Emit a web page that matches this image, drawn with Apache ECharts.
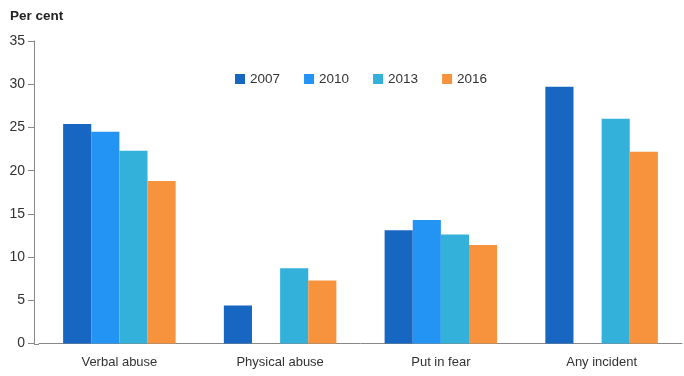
<!DOCTYPE html>
<html>
<head>
<meta charset="utf-8">
<script src="https://cdn.jsdelivr.net/npm/echarts@6/dist/echarts.min.js"></script>
<style>
  html, body { margin: 0; padding: 0; background: #fff; }
  #chart { width: 684px; height: 376px; }
</style>
</head>
<body>
<div id="chart"></div>
<script>
// Incident categories and the share (per cent) reported in each survey year
const categories = ['Verbal abuse', 'Physical abuse', 'Put in fear', 'Any incident'];
const years = ['2007', '2010', '2013', '2016'];
const values2007 = [25.4, 4.4, 13.1, 29.7];
const values2010 = [24.5, null, 14.3, null];
const values2013 = [22.3, 8.7, 12.6, 26.0];
const values2016 = [18.8, 7.3, 11.4, 22.2];
const yTicks = [0, 5, 10, 15, 20, 25, 30, 35];

const seriesValues = [values2007, values2010, values2013, values2016];
const colors = ['#1767c2', '#2494f4', '#33b1da', '#f7933c'];
const font = 'Liberation Sans, Arial, sans-serif';
const axisColor = '#888';
const gridLeft = 39;
const yAxisOffset = 5;

const chart = echarts.init(document.getElementById('chart'), null, { renderer: 'canvas' });

chart.setOption({
  animation: false,
  backgroundColor: '#fff',
  title: {
    text: 'Per cent',
    left: 5,
    top: 4,
    textStyle: { fontFamily: font, fontSize: 13.5, fontWeight: 'bold', color: '#222' }
  },
  legend: {
    data: years,
    left: 235,
    top: 72,
    padding: 0,
    itemWidth: 10,
    itemHeight: 10,
    itemGap: 24,
    icon: 'rect',
    textStyle: { fontFamily: font, fontSize: 13.5, color: '#333' }
  },
  grid: { left: gridLeft, right: 2, top: 41, bottom: 32.5, containLabel: false },
  xAxis: {
    type: 'category',
    data: categories,
    axisLine: { lineStyle: { color: axisColor, width: 1 } },
    axisTick: { show: false },
    axisLabel: { fontFamily: font, fontSize: 13, color: '#333', margin: 12 }
  },
  yAxis: {
    type: 'value',
    min: yTicks[0],
    max: yTicks[yTicks.length - 1],
    interval: 5,
    offset: yAxisOffset,
    axisLine: { show: true, lineStyle: { color: axisColor, width: 1 } },
    axisTick: { show: true, length: 6, lineStyle: { color: axisColor } },
    splitLine: { show: false },
    axisLabel: { fontFamily: font, fontSize: 14, color: '#333', margin: 9 }
  },
  series: years.map((y, i) => ({
    name: y,
    type: 'bar',
    data: seriesValues[i],
    barGap: '0%',
    barCategoryGap: '30%',
    itemStyle: { color: colors[i] }
  }))
});

// Continue the baseline left so it meets the offset value axis
const baseY = Math.round(chart.convertToPixel({ yAxisIndex: 0 }, 0)) + 0.5;
chart.setOption({
  graphic: [{
    type: 'line',
    silent: true,
    shape: { x1: gridLeft - yAxisOffset, y1: baseY, x2: gridLeft, y2: baseY },
    style: { stroke: axisColor, lineWidth: 1 }
  }]
});
</script>
</body>
</html>
